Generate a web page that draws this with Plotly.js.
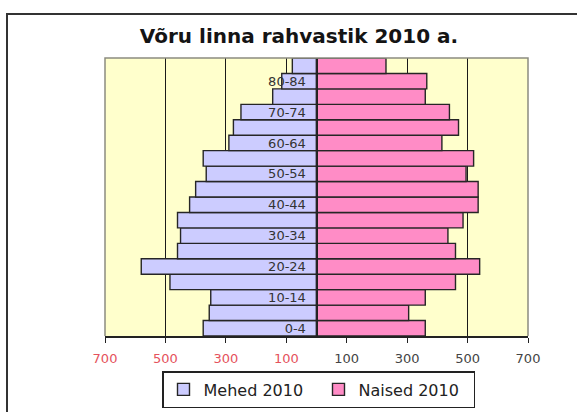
<!DOCTYPE html>
<html>
<head>
<meta charset="utf-8">
<script src="https://cdn.plot.ly/plotly-3.0.1.min.js"></script>
<style>html,body{margin:0;padding:0;background:#fff;}</style>
</head>
<body>
<div id="chart" style="width:577px;height:412px;"></div>
<script>
// Age groups (bottom to top)
const ageGroups = ['0-4','5-9','10-14','15-19','20-24','25-29','30-34','35-39','40-44','45-49','50-54','55-59','60-64','65-69','70-74','75-79','80-84','85+'];
const shownAgeLabels = ['0-4','10-14','20-24','30-34','40-44','50-54','60-64','70-74','80-84'];
// Population counts
const mehed2010 = [375, 355, 350, 485, 580, 460, 450, 460, 420, 400, 365, 375, 290, 275, 250, 145, 115, 80];
const naised2010 = [360, 305, 360, 460, 540, 460, 435, 485, 535, 535, 495, 520, 415, 470, 440, 360, 365, 230];
// X tick values and labels
const xTickVals = [-700, -500, -300, -100, 100, 300, 500, 700];
const xTickLabels = ['700', '500', '300', '100', '100', '300', '500', '700'];
const seriesNames = ['Mehed 2010', 'Naised 2010'];
const chartTitle = 'Võru linna rahvastik 2010 a.';

const xTickText = xTickLabels.map((t, i) =>
  xTickVals[i] < 0 ? '<span style="color:#e5525c">' + t + '</span>' : t);

const traces = [
  {
    type: 'bar', orientation: 'h', name: seriesNames[0],
    y: ageGroups, x: mehed2010.map(v => -v),
    marker: {color: '#CCCCFF', line: {color: '#262626', width: 1.4}},
    hoverinfo: 'skip'
  },
  {
    type: 'bar', orientation: 'h', name: seriesNames[1],
    y: ageGroups, x: naised2010,
    marker: {color: '#FF8CC6', line: {color: '#262626', width: 1.4}},
    hoverinfo: 'skip'
  }
];

const layout = {
  width: 577, height: 412,
  margin: {l: 105, r: 49, t: 58, b: 76},
  paper_bgcolor: '#ffffff',
  plot_bgcolor: '#FFFFCC',
  barmode: 'overlay',
  bargap: 0,
  font: {family: 'DejaVu Sans, Verdana, sans-serif', color: '#333'},
  title: {
    text: '<b>' + chartTitle + '</b>',
    font: {family: 'DejaVu Sans, Verdana, sans-serif', size: 20, color: '#141414'},
    xref: 'container', x: 299/577, xanchor: 'center',
    yref: 'container', y: 1 - 36/412, yanchor: 'middle'
  },
  xaxis: {
    range: [-700, 700],
    tickmode: 'array', tickvals: xTickVals, ticktext: xTickText,
    tickfont: {size: 13, color: '#444'},
    ticks: 'outside', ticklen: 5, tickwidth: 1, tickcolor: '#222',
    ticklabelstandoff: 5,
    showgrid: true, gridcolor: '#1a1a1a', gridwidth: 1,
    zeroline: false,
    showline: true, linecolor: '#222', linewidth: 1.5,
    automargin: false,
    fixedrange: true
  },
  yaxis: {
    type: 'category',
    range: [-0.5, ageGroups.length - 0.5],
    anchor: 'free', position: 0.5,
    tickmode: 'array', tickvals: shownAgeLabels, ticktext: shownAgeLabels,
    tickfont: {size: 13, color: '#333'},
    ticks: '', ticklabelstandoff: 8,
    showgrid: false, zeroline: false,
    showline: true, linecolor: '#222', linewidth: 1.5,
    layer: 'above traces',
    automargin: false,
    fixedrange: true
  },
  showlegend: true,
  legend: {
    orientation: 'h',
    xref: 'container', x: 162 / 577, xanchor: 'left',
    yref: 'container', y: 1 - 408 / 412, yanchor: 'bottom',
    bordercolor: '#222', borderwidth: 1.5,
    bgcolor: '#ffffff',
    font: {size: 16, color: '#222'},
    entrywidth: 110, entrywidthmode: 'pixels'
  },
  shapes: [
    {type: 'path', xref: 'paper', yref: 'paper', path: 'M0,0L0,1L1,1L1,0',
     line: {color: '#8c8c80', width: 1.5}, layer: 'above'},
    {type: 'rect', xref: 'paper', yref: 'paper',
     x0: (7 - 105) / 423, x1: 1.3, y0: -0.5, y1: (336 - 14) / 278,
     line: {color: '#333', width: 2}, fillcolor: 'rgba(0,0,0,0)', layer: 'above'}
  ]
};

Plotly.newPlot('chart', traces, layout, {displayModeBar: false, staticPlot: true});
</script>
</body>
</html>
